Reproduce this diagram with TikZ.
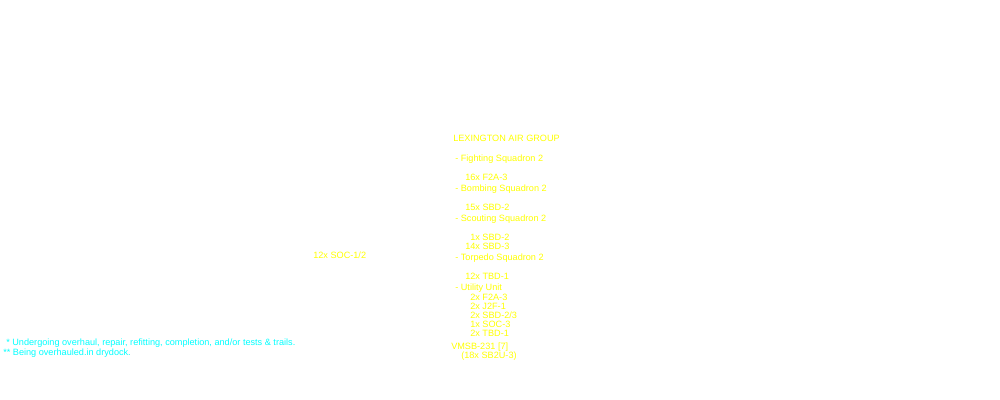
\documentclass[tikz,border=0pt]{standalone}
\usepackage{fontspec}
\setmainfont{Liberation Sans}
\definecolor{airyellow}{HTML}{FFFF00}
\definecolor{notecyan}{HTML}{00FFFF}
\tikzset{
  entry/.style = {anchor=west, inner sep=0pt, text=airyellow, font=\fontsize{6.5}{7}\selectfont},
  note/.style = {entry, text=notecyan}
}
\begin{document}
\begin{tikzpicture}[x=0.025cm, y=-0.025cm]
    \useasboundingbox[fill=white] (0,0) rectangle (1000,400);
    % Air group
    \node [entry] (group) at (453,138) {LEXINGTON AIR GROUP};
    \node [entry] (vf) at (455,159) {- Fighting Squadron 2};
    \node [entry] (vfa) at (465,177) {16x F2A-3};
    \node [entry] (vb) at (455,189) {- Bombing Squadron 2};
    \node [entry] (vba) at (465,207) {15x SBD-2};
    \node [entry] (vs) at (455,219) {- Scouting Squadron 2};
    \node [entry] (vsa) at (470,237) {1x SBD-2};
    \node [entry] (vsb) at (465,246) {14x SBD-3};
    \node [entry] (vt) at (455,258) {- Torpedo Squadron 2};
    \node [entry] (vta) at (465,276) {12x TBD-1};
    \node [entry] (ut) at (455,288) {- Utility Unit};
    \node [entry] (uta) at (470,297) {2x F2A-3};
    \node [entry] (utb) at (470,306) {2x J2F-1};
    \node [entry] (utc) at (470,315) {2x SBD-2/3};
    \node [entry] (utd) at (470,324) {1x SOC-3};
    \node [entry] (ute) at (470,333) {2x TBD-1};
    \node [entry] (vmsb) at (451,347) {VMSB-231 [7]};
    \node [entry] (vmsba) at (461,356) {(18x SB2U-3)};
    \node [entry] (soc) at (313,255) {12x SOC-1/2};
    % Footnotes
    \node [note] (noteone) at (6,343) {* Undergoing overhaul, repair, refitting, completion, and/or tests \& trails.};
    \node [note] (notetwo) at (3,353) {** Being overhauled.in drydock.};
\end{tikzpicture}
\end{document}
